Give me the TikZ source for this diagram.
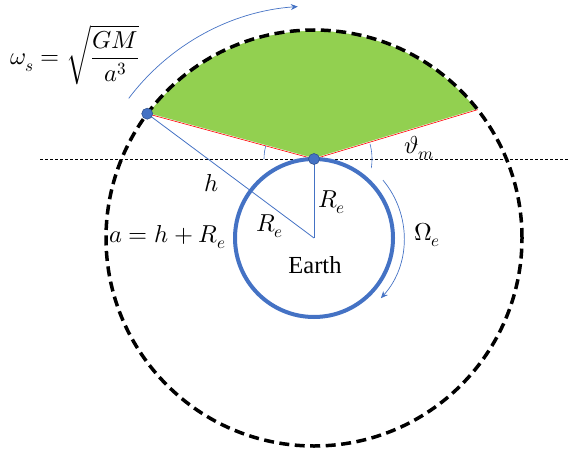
\documentclass[tikz,border=0pt]{standalone}
\usepackage{amsmath}
\usepackage{fontspec}
\usepackage{unicode-math}
\setmainfont{Liberation Serif}
\setmathfont{Latin Modern Math}
\usetikzlibrary{arrows.meta,calc}
\definecolor{offblue}{HTML}{4472C4}
\definecolor{offgreen}{HTML}{92D050}
\definecolor{dotedge}{HTML}{2F528F}
\tikzset{
  lbl/.style={font=\fontsize{24.5}{28}\selectfont, inner sep=0pt},
  thinblue/.style={draw=offblue, line width=0.8pt},
  orbitline/.style={draw=black, line width=3.5pt, dash pattern=on 10pt off 5.5pt},
  earthline/.style={draw=offblue, line width=4pt},
  dotnode/.style={circle, fill=offblue, draw=dotedge, line width=0.6pt, minimum size=11pt, inner sep=0pt},
  horizon/.style={draw=black, line width=0.6pt, dash pattern=on 3pt off 2pt},
  rotarrow/.style={draw=offblue, line width=0.7pt, -{Stealth[length=7pt,width=6pt]}},
}
\begin{document}
\begin{tikzpicture}[x=1pt,y=1pt]
\useasboundingbox (0,0) rectangle (569,448);
\coordinate (C) at (314,210);
\coordinate (T) at (314,289);
\coordinate (S) at ($(C)+(143.3:208)$);
\coordinate (P) at ($(C)+(38.1:208)$);
\coordinate (hl) at (40,289);
\coordinate (hr) at (569,289);
% green coverage region
\fill[offgreen, draw=white, line width=1.6pt, line join=round] (T) -- (S) arc[start angle=143.3, end angle=38.1, radius=208] -- cycle;
\draw[red, line width=0.6pt] (T) -- (S);
\draw[red, line width=0.6pt] (T) -- (P);
% horizon line
\draw[horizon] (hl) -- (hr);
% orbit
\draw[orbitline] (C) circle[radius=208];
% earth
\draw[earthline] (C) circle[radius=79];
% radii
\draw[thinblue] (S) -- (C);
\draw[thinblue] (T) -- (C);
% angle arcs
\draw[thinblue, line width=0.6pt] ($(T)+(180:50)$) arc[start angle=180, end angle=164.8, radius=50];
\draw[thinblue, line width=0.6pt] ($(T)+(15:58)$) arc[start angle=15, end angle=-9, radius=58];
% rotation arrows
\draw[rotarrow] ($(C)+(40:90)$) arc[start angle=40, end angle=-42, radius=90];
\draw[rotarrow] ($(C)+(143:232)$) arc[start angle=143, end angle=94, radius=232];
% dots
\node[dotnode] (sat) at (S) {};
\node[dotnode] (top) at (T) {};
% labels
\node[lbl, anchor=base west] (ws) at (10,383) {$\omega_s = \sqrt{\dfrac{GM}{a^3}}$};
\node[lbl, anchor=base] (hlab) at (212,257) {$h$};
\node[lbl, anchor=base west] (alab) at (109,206) {$a = h + R_e$};
\node[lbl, anchor=base west] (re1) at (256,217) {$R_e$};
\node[lbl, anchor=base west] (re2) at (318,241) {$R_e$};
\node[lbl, anchor=base] (earth) at (315,175) {Earth};
\node[lbl, anchor=base west] (om) at (414,208) {$\Omega_e$};
\node[lbl, anchor=base west] (th) at (404,295) {$\vartheta_m$};
\end{tikzpicture}
\end{document}
